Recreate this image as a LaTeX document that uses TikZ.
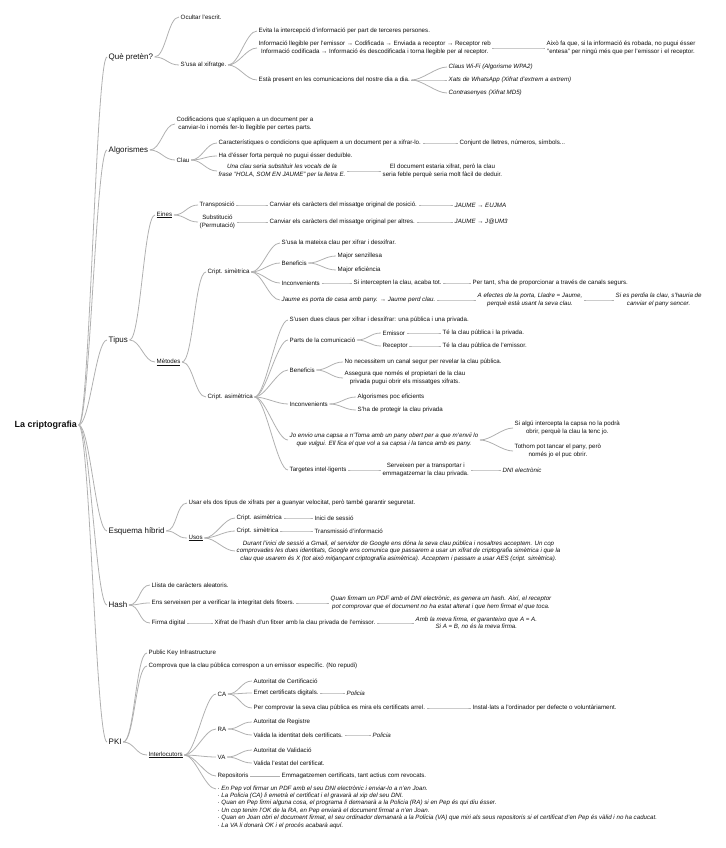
\documentclass[tikz,border=0pt]{standalone}
\usepackage{fontspec}
\setmainfont{Liberation Sans}
\usetikzlibrary{positioning}
\definecolor{ink}{HTML}{111111}
\definecolor{twig}{HTML}{B0B0B0}
\tikzset{
  rootnode/.style={anchor=west,inner sep=1.5pt,text=ink,font=\fontsize{9}{10}\selectfont\bfseries},
  topic/.style={anchor=west,inner sep=1.5pt,text=ink,font=\fontsize{8}{9.5}\selectfont},
  leaf/.style={anchor=west,inner sep=1.5pt,text=ink,align=center,font=\fontsize{6.2}{7.4}\selectfont},
  example/.style={leaf,font=\fontsize{6.2}{7.4}\selectfont\itshape},
  twigline/.style={draw=twig,line width=0.8pt},
  link/.style={out=0,in=180,distance=11pt},
}

\begin{document}
\begin{tikzpicture}[x=1bp,y=-1bp]
  \useasboundingbox (0,0) rectangle (726,848);

  \node[rootnode] (crip) at (13,425) {La criptografia};

  % ---------------------------------------------------------------- que preten
  \node[topic] (que) at (107,57) {Què pretèn?};
  \node[leaf] (ocult) at (179,17) {Ocultar l'escrit.};
  \node[leaf] (usa) at (179,65) {S'usa al xifratge.};
  \node[leaf] (evita) at (257,31) {Evita la intercepció d'informació per part de terceres persones.};
  \node[leaf] (flux) at (257,48) {Informació llegible per l'emissor → Codificada → Enviada a receptor → Receptor reb\\Informació codificada → Informació és descodificada i torna llegible per al receptor.};
  \node[leaf] (robada) at (545,48) {Això fa que, si la informació és robada, no pugui ésser\\"entesa" per ningú més que per l'emissor i el receptor.};
  \node[leaf] (dia) at (257,80) {Està present en les comunicacions del nostre dia a dia.};
  \node[example] (wifi) at (447,67) {Claus Wi-Fi (Algorisme WPA2)};
  \node[example] (xats) at (447,80) {Xats de WhatsApp (Xifrat d'extrem a extrem)};
  \node[example] (contra) at (447,93) {Contrasenyes (Xifrat MD5)};
  \draw[twigline] (crip.east) to[link] (que.west);
  \draw[twigline] (que.east) to[link] (ocult.west);
  \draw[twigline] (que.east) to[link] (usa.west);
  \draw[twigline] (usa.east) to[link] (evita.west);
  \draw[twigline] (usa.east) to[link] (flux.west);
  \draw[twigline] (usa.east) to[link] (dia.west);
  \draw[twigline] (flux.east) to[link] (robada.west);
  \draw[twigline] (dia.east) to[link] (wifi.west);
  \draw[twigline] (dia.east) to[link] (xats.west);
  \draw[twigline] (dia.east) to[link] (contra.west);

  % ---------------------------------------------------------------- algorismes
  \node[topic] (alg) at (107,150) {Algorismes};
  \node[leaf] (codif) at (175,124) {Codificacions que s'apliquen a un document per a\\canviar-lo i només fer-lo llegible per certes parts.};
  \node[leaf] (clau) at (175,160) {Clau};
  \node[leaf] (caract) at (217,143) {Característiques o condicions que apliquem a un document per a xifrar-lo.};
  \node[leaf] (conj) at (458,143) {Conjunt de lletres, números, símbols...};
  \node[leaf] (forta) at (217,156) {Ha d'ésser forta perquè no pugui ésser deduïble.};
  \node[example] (vocals) at (217,171) {Una clau seria substituir les vocals de la\\frase "HOLA, SOM EN JAUME" per la lletra E.};
  \node[leaf] (feble) at (381,171) {El document estaria xifrat, però la clau\\seria feble perquè seria molt fàcil de deduir.};
  \draw[twigline] (crip.east) to[link] (alg.west);
  \draw[twigline] (alg.east) to[link] (codif.west);
  \draw[twigline] (alg.east) to[link] (clau.west);
  \draw[twigline] (clau.east) to[link] (caract.west);
  \draw[twigline] (clau.east) to[link] (forta.west);
  \draw[twigline] (clau.east) to[link] (vocals.west);
  \draw[twigline] (caract.east) to[link] (conj.west);
  \draw[twigline] (vocals.east) to[link] (feble.west);

  % ---------------------------------------------------------------- tipus
  \node[topic] (tipus) at (107,340) {Tipus};
  \node[leaf] (eines) at (155,215) {\underline{Eines}};
  \node[leaf] (transp) at (198,205) {Transposició};
  \node[leaf] (transpdef) at (268,205) {Canviar els caràcters del missatge original de posició.};
  \node[example] (transpex) at (453,205) {JAUME → EUJMA};
  \node[leaf] (subst) at (198,222) {Substitució\\(Permutació)};
  \node[leaf] (substdef) at (268,222) {Canviar els caràcters del missatge original per altres.};
  \node[example] (substex) at (453,222) {JAUME → J@UM3};
  \node[leaf] (metodes) at (155,362) {\underline{Mètodes}};
  \draw[twigline] (crip.east) to[link] (tipus.west);
  \draw[twigline] (tipus.east) to[link] (eines.west);
  \draw[twigline] (tipus.east) to[link] (metodes.west);
  \draw[twigline] (eines.east) to[link] (transp.west);
  \draw[twigline] (eines.east) to[link] (subst.west);
  \draw[twigline] (transp.east) to[link] (transpdef.west);
  \draw[twigline] (subst.east) to[link] (substdef.west);
  \draw[twigline] (transpdef.east) to[link] (transpex.west);
  \draw[twigline] (substdef.east) to[link] (substex.west);

  % simetrica
  \node[leaf] (sim) at (206,272) {Cript. simètrica};
  \node[leaf] (simclau) at (280,243) {S'usa la mateixa clau per xifrar i desxifrar.};
  \node[leaf] (simben) at (280,263) {Beneficis};
  \node[leaf] (senz) at (336,256) {Major senzillesa};
  \node[leaf] (efic) at (336,270) {Major eficiència};
  \node[leaf] (siminc) at (280,283) {Inconvenients};
  \node[leaf] (intercep) at (352,283) {Si intercepten la clau, acaba tot.};
  \node[leaf] (segurs) at (471,283) {Per tant, s'ha de proporcionar a través de canals segurs.};
  \node[example] (simex) at (280,300) {Jaume es porta de casa amb pany. → Jaume perd clau.};
  \node[example] (lladre) at (476,300) {A efectes de la porta, Lladre = Jaume,\\perquè està usant la seva clau.};
  \node[example] (pany) at (614,300) {Si es perdia la clau, s'hauria de\\canviar el pany sencer.};
  \draw[twigline] (metodes.east) to[link] (sim.west);
  \draw[twigline] (sim.east) to[link] (simclau.west);
  \draw[twigline] (sim.east) to[link] (simben.west);
  \draw[twigline] (sim.east) to[link] (siminc.west);
  \draw[twigline] (sim.east) to[link] (simex.west);
  \draw[twigline] (simben.east) to[link] (senz.west);
  \draw[twigline] (simben.east) to[link] (efic.west);
  \draw[twigline] (siminc.east) to[link] (intercep.west);
  \draw[twigline] (intercep.east) to[link] (segurs.west);
  \draw[twigline] (simex.east) to[link] (lladre.west);
  \draw[twigline] (lladre.east) to[link] (pany.west);

  % asimetrica
  \node[leaf] (asim) at (206,397) {Cript. asimètrica};
  \node[leaf] (asimclau) at (288,320) {S'usen dues claus per xifrar i desxifrar: una pública i una privada.};
  \node[leaf] (parts) at (288,340) {Parts de la comunicació};
  \node[leaf] (emis) at (381,333) {Emissor};
  \node[leaf] (emisdef) at (441,333) {Té la clau pública i la privada.};
  \node[leaf] (recep) at (381,346) {Receptor};
  \node[leaf] (recepdef) at (441,346) {Té la clau pública de l'emissor.};
  \node[leaf] (asimben) at (288,370) {Beneficis};
  \node[leaf] (canal) at (343,362) {No necessitem un canal segur per revelar la clau pública.};
  \node[leaf] (propiet) at (343,378) {Assegura que només el propietari de la clau\\privada pugui obrir els missatges xifrats.};
  \node[leaf] (asiminc) at (288,404) {Inconvenients};
  \node[leaf] (pocef) at (356,397) {Algorismes poc eficients};
  \node[leaf] (protegir) at (356,410) {S'ha de protegir la clau privada};
  \node[example] (capsa) at (288,440) {Jo envio una capsa a n'Toma amb un pany obert per a que m'envii lo\\que vulgui. Ell fica el que vol a sa capsa i la tanca amb es pany.};
  \node[leaf] (intcapsa) at (513,428) {Si algú intercepta la capsa no la podrà\\obrir, perquè la clau la tenc jo.};
  \node[leaf] (tothom) at (513,451) {Tothom pot tancar el pany, però\\només jo el puc obrir.};
  \node[leaf] (targ) at (288,470) {Targetes intel·ligents};
  \node[leaf] (transport) at (381,470) {Serveixen per a transportar i\\emmagatzemar la clau privada.};
  \node[example] (dni) at (501,470) {DNI electrònic};
  \draw[twigline] (metodes.east) to[link] (asim.west);
  \draw[twigline] (asim.east) to[link] (asimclau.west);
  \draw[twigline] (asim.east) to[link] (parts.west);
  \draw[twigline] (asim.east) to[link] (asimben.west);
  \draw[twigline] (asim.east) to[link] (asiminc.west);
  \draw[twigline] (asim.east) to[link] (capsa.west);
  \draw[twigline] (asim.east) to[link] (targ.west);
  \draw[twigline] (parts.east) to[link] (emis.west);
  \draw[twigline] (parts.east) to[link] (recep.west);
  \draw[twigline] (emis.east) to[link] (emisdef.west);
  \draw[twigline] (recep.east) to[link] (recepdef.west);
  \draw[twigline] (asimben.east) to[link] (canal.west);
  \draw[twigline] (asimben.east) to[link] (propiet.west);
  \draw[twigline] (asiminc.east) to[link] (pocef.west);
  \draw[twigline] (asiminc.east) to[link] (protegir.west);
  \draw[twigline] (capsa.east) to[link] (intcapsa.west);
  \draw[twigline] (capsa.east) to[link] (tothom.west);
  \draw[twigline] (targ.east) to[link] (transport.west);
  \draw[twigline] (transport.east) to[link] (dni.west);

  % ---------------------------------------------------------------- esquema hibrid
  \node[topic] (hib) at (107,531) {Esquema híbrid};
  \node[leaf] (usar) at (187,503) {Usar els dos tipus de xifrats per a guanyar velocitat, però també garantir seguretat.};
  \node[leaf] (usos) at (187,538) {\underline{Usos}};
  \node[leaf] (usasim) at (235,518) {Cript. asimètrica};
  \node[leaf] (sessio) at (313,518) {Inici de sessió};
  \node[leaf] (ussim) at (235,531) {Cript. simètrica};
  \node[leaf] (transm) at (313,531) {Transmissió d'informació};
  \node[example] (gmail) at (235,551) {Durant l'inici de sessió a Gmail, el servidor de Google ens dóna la seva clau pública i nosaltres acceptem. Un cop\\comprovades les dues identitats, Google ens comunica que passarem a usar un xifrat de criptografia simètrica i que la\\clau que usarem és X (tot això mitjançant criptografia asimètrica). Acceptem i passam a usar AES (cript. simètrica).};
  \draw[twigline] (crip.east) to[link] (hib.west);
  \draw[twigline] (hib.east) to[link] (usar.west);
  \draw[twigline] (hib.east) to[link] (usos.west);
  \draw[twigline] (usos.east) to[link] (usasim.west);
  \draw[twigline] (usos.east) to[link] (ussim.west);
  \draw[twigline] (usos.east) to[link] (gmail.west);
  \draw[twigline] (usasim.east) to[link] (sessio.west);
  \draw[twigline] (ussim.east) to[link] (transm.west);

  % ---------------------------------------------------------------- hash
  \node[topic] (hash) at (107,605) {Hash};
  \node[leaf] (llista) at (150,585) {Llista de caràcters aleatoris.};
  \node[leaf] (integ) at (150,603) {Ens serveixen per a verificar la integritat dels fitxers.};
  \node[example] (pdf) at (329,603) {Quan firmam un PDF amb el DNI electrònic, es genera un hash. Així, el receptor\\pot comprovar que el document no ha estat alterat i que hem firmat el que toca.};
  \node[leaf] (firma) at (150,623) {Firma digital};
  \node[leaf] (xifhash) at (213,623) {Xifrat de l'hash d'un fitxer amb la clau privada de l'emissor.};
  \node[example] (meva) at (414,623) {Amb la meva firma, et garanteixo que A = A.\\Si A = B, no és la meva firma.};
  \draw[twigline] (crip.east) to[link] (hash.west);
  \draw[twigline] (hash.east) to[link] (llista.west);
  \draw[twigline] (hash.east) to[link] (integ.west);
  \draw[twigline] (hash.east) to[link] (firma.west);
  \draw[twigline] (integ.east) to[link] (pdf.west);
  \draw[twigline] (firma.east) to[link] (xifhash.west);
  \draw[twigline] (xifhash.east) to[link] (meva.west);

  % ---------------------------------------------------------------- pki
  \node[topic] (pki) at (107,742) {PKI};
  \node[leaf] (pkname) at (147,653) {Public Key Infrastructure};
  \node[leaf] (repudi) at (147,666) {Comprova que la clau pública correspon a un emissor específic. (No repudi)};
  \node[leaf] (interl) at (147,755) {\underline{Interlocutors}};
  \node[leaf] (ca) at (216,694) {CA};
  \node[leaf] (caname) at (252,681) {Autoritat de Certificació};
  \node[leaf] (emet) at (252,693) {Emet certificats digitals.};
  \node[example] (pol1) at (345,693) {Policia};
  \node[leaf] (arrel) at (252,708) {Per comprovar la seva clau pública es mira els certificats arrel.};
  \node[leaf] (instal) at (471,708) {Instal·lats a l'ordinador per defecte o voluntàriament.};
  \node[leaf] (ra) at (216,729) {RA};
  \node[leaf] (raname) at (252,722) {Autoritat de Registre};
  \node[leaf] (valid) at (252,735) {Valida la identitat dels certificats.};
  \node[example] (pol2) at (371,735) {Policia};
  \node[leaf] (va) at (216,757) {VA};
  \node[leaf] (vaname) at (252,750) {Autoritat de Validació};
  \node[leaf] (estat) at (252,763) {Valida l'estat del certificat.};
  \node[leaf] (repo) at (216,776) {Repositoris};
  \node[leaf] (emmag) at (280,776) {Emmagatzemen certificats, tant actius com revocats.};
  \node[example,align=left,anchor=north west] (pas) at (216,784) {· En Pep vol firmar un PDF amb el seu DNI electrònic i enviar-lo a n'en Joan.\\
    · La Policia (CA) li emetrà el certificat i el gravarà al xip del seu DNI.\\
    · Quan en Pep firmi alguna cosa, el programa li demanarà a la Policia (RA) si en Pep és qui diu ésser.\\
    · Un cop tenim l'OK de la RA, en Pep enviarà el document firmat a n'en Joan.\\
    · Quan en Joan obri el document firmat, el seu ordinador demanarà a la Policia (VA) que miri als seus repositoris si el certificat d'en Pep és vàlid i no ha caducat.\\
    · La VA li donarà OK i el procés acabarà aquí.};
  \draw[twigline] (crip.east) to[link] (pki.west);
  \draw[twigline] (pki.east) to[link] (pkname.west);
  \draw[twigline] (pki.east) to[link] (repudi.west);
  \draw[twigline] (pki.east) to[link] (interl.west);
  \draw[twigline] (interl.east) to[link] (ca.west);
  \draw[twigline] (interl.east) to[link] (ra.west);
  \draw[twigline] (interl.east) to[link] (va.west);
  \draw[twigline] (interl.east) to[link] (repo.west);
  \draw[twigline] (interl.east) to[link] ([yshift=-5pt]pas.north west);
  \draw[twigline] (ca.east) to[link] (caname.west);
  \draw[twigline] (ca.east) to[link] (emet.west);
  \draw[twigline] (ca.east) to[link] (arrel.west);
  \draw[twigline] (emet.east) to[link] (pol1.west);
  \draw[twigline] (arrel.east) to[link] (instal.west);
  \draw[twigline] (ra.east) to[link] (raname.west);
  \draw[twigline] (ra.east) to[link] (valid.west);
  \draw[twigline] (valid.east) to[link] (pol2.west);
  \draw[twigline] (va.east) to[link] (vaname.west);
  \draw[twigline] (va.east) to[link] (estat.west);
  \draw[twigline] (repo.east) to[link] (emmag.west);
\end{tikzpicture}
\end{document}
